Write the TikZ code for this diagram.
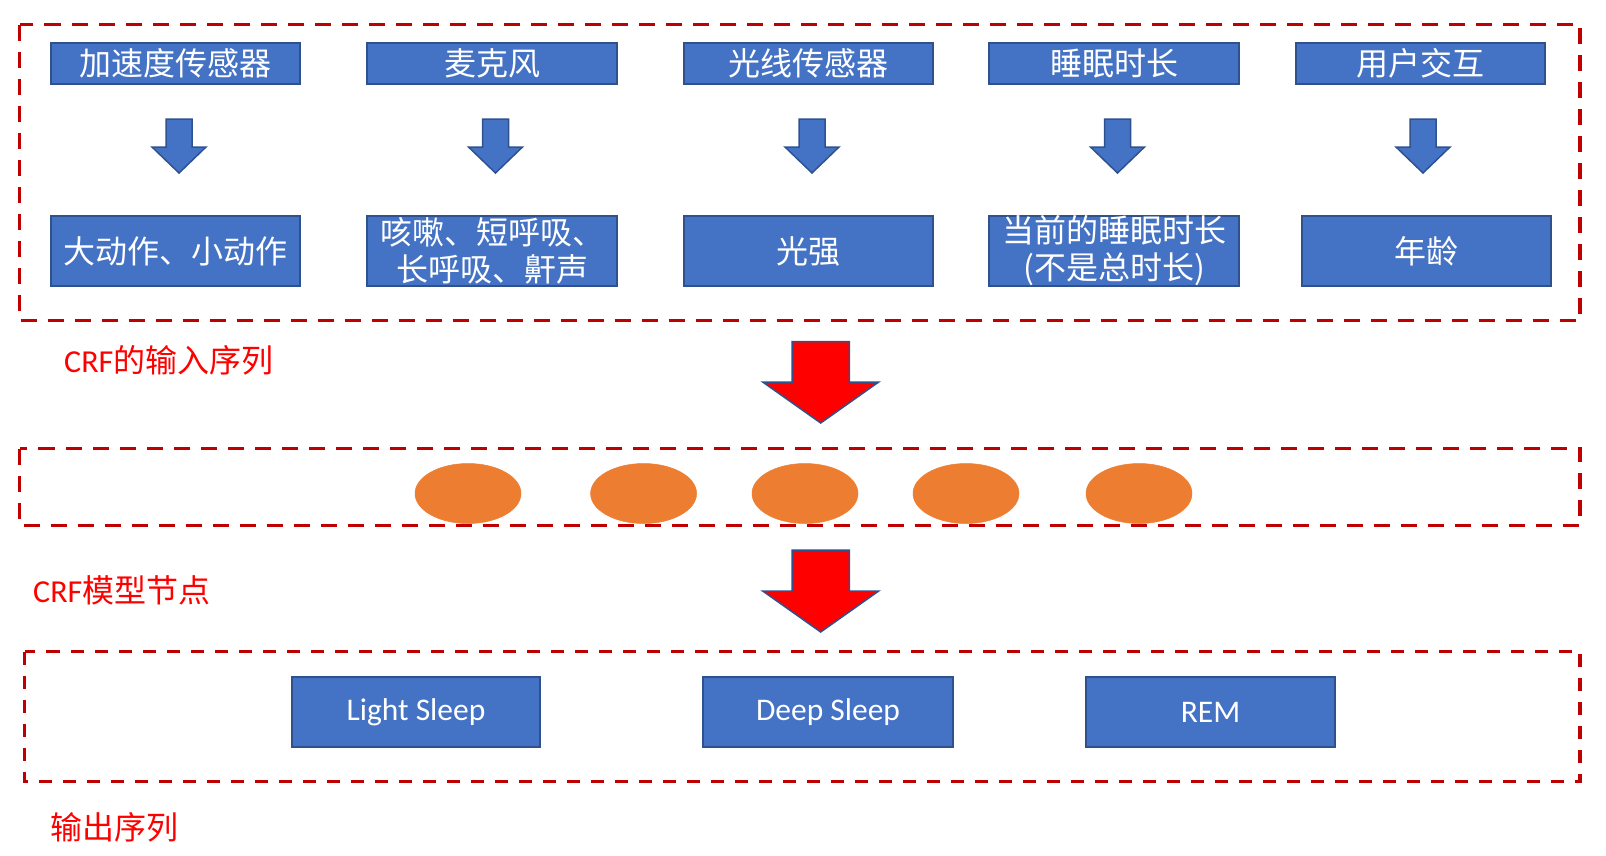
\documentclass[tikz,border=0pt]{standalone}
\usepackage{fontspec}
\setmainfont{Carlito}
\newfontfamily\cjk{Noto Sans CJK SC}
\usetikzlibrary{shapes.geometric}
\definecolor{boxblue}{HTML}{4472C4}
\definecolor{boxedge}{HTML}{2F528F}
\definecolor{dashred}{HTML}{C00000}
\definecolor{nodeorange}{HTML}{ED7D31}
\definecolor{labelred}{HTML}{FF0000}
\newcommand\blockarrowdown[7]{%
  \draw[#1] (#2-#6,#3) -- (#2+#6,#3) -- (#2+#6,#4) -- (#2+#7,#4) -- (#2,#5)
    -- (#2-#7,#4) -- (#2-#6,#4) -- cycle;}
\begin{document}
\begin{tikzpicture}[x=1pt,y=-1pt,
  box/.style={draw=boxedge, line width=2pt, fill=boxblue, text=white,
    inner sep=0pt, align=center, font=\cjk\fontsize{32}{37}\selectfont},
  topbox/.style={box, minimum height=41pt},
  midbox/.style={box, minimum height=70pt},
  outbox/.style={box, minimum height=70pt, font=\rmfamily\fontsize{31.5}{37}\selectfont},
  frame/.style={draw=dashred, line width=3.5pt, dash pattern=on 16pt off 11pt},
  outframe/.style={draw=dashred, line width=3.5pt, dash pattern=on 13pt off 11pt},
  bluearrow/.style={draw=boxedge, line width=1.5pt, fill=boxblue},
  redarrow/.style={draw=boxedge, line width=1.5pt, fill=labelred},
  crfnode/.style={ellipse, fill=nodeorange, draw=nodeorange, line width=0.5pt,
    minimum width=106pt, minimum height=60pt, inner sep=0pt},
  lbl/.style={anchor=west, text=labelred, inner sep=0pt,
    font=\cjk\fontsize{32}{37}\selectfont}]
\useasboundingbox[fill=white] (0,0) rectangle (1606,855);

% frames
\draw[frame] (19.5,24.5) rectangle (1580,320.5);
\draw[frame] (19.5,448.5) rectangle (1580,525.5);
\draw[outframe] (24.5,651.5) rectangle (1580,781.5);

% top row
\node[topbox, minimum width=249pt] (s1) at (175.5,63.5) {加速度传感器};
\node[topbox, minimum width=250pt] (s2) at (492,63.5) {麦克风};
\node[topbox, minimum width=249pt] (s3) at (808.5,63.5) {光线传感器};
\node[topbox, minimum width=250pt] (s4) at (1114,63.5) {睡眠时长};
\node[topbox, minimum width=249pt] (s5) at (1420.5,63.5) {用户交互};

% blue arrows
\blockarrowdown{bluearrow}{179}{119}{147}{173}{13}{27}
\blockarrowdown{bluearrow}{495.5}{119}{147}{173}{13}{27}
\blockarrowdown{bluearrow}{812}{119}{147}{173}{13}{27}
\blockarrowdown{bluearrow}{1117.5}{119}{147}{173}{13}{27}
\blockarrowdown{bluearrow}{1423}{119}{147}{173}{13}{27}

% second row
\node[midbox, minimum width=249pt] (f1) at (175.5,251) {大动作、小动作};
\node[midbox, minimum width=250pt] (f2) at (492,251) {咳嗽、短呼吸、\\长呼吸、鼾声};
\node[midbox, minimum width=249pt] (f3) at (808.5,251) {光强};
\node[midbox, minimum width=250pt] (f4) at (1114,251) {当前的睡眠时长\\(不是总时长)};
\node[midbox, minimum width=249pt] (f5) at (1426.5,251) {年龄};

\node[lbl] (l1) at (64,360) {{\rmfamily CRF}的输入序列};

% red arrow 1
\blockarrowdown{redarrow}{820.7}{341.5}{382}{423}{28.7}{58}

% CRF nodes
\node[crfnode] (c1) at (468,493.5) {};
\node[crfnode] (c2) at (643.6,493.5) {};
\node[crfnode] (c3) at (805,493.5) {};
\node[crfnode] (c4) at (966,493.5) {};
\node[crfnode] (c5) at (1139,493.5) {};

\node[lbl] (l2) at (33,590) {{\rmfamily CRF}模型节点};

% red arrow 2
\blockarrowdown{redarrow}{820.7}{550}{591}{632}{28.7}{58}

% output
\node[outbox, minimum width=248pt] (o1) at (416,712) {Light Sleep};
\node[outbox, minimum width=250pt] (o2) at (828,712) {Deep Sleep};
\node[outbox, minimum width=249pt] (o3) at (1210.5,712) {REM};

\node[lbl] (l3) at (50,827) {输出序列};
\end{tikzpicture}
\end{document}
